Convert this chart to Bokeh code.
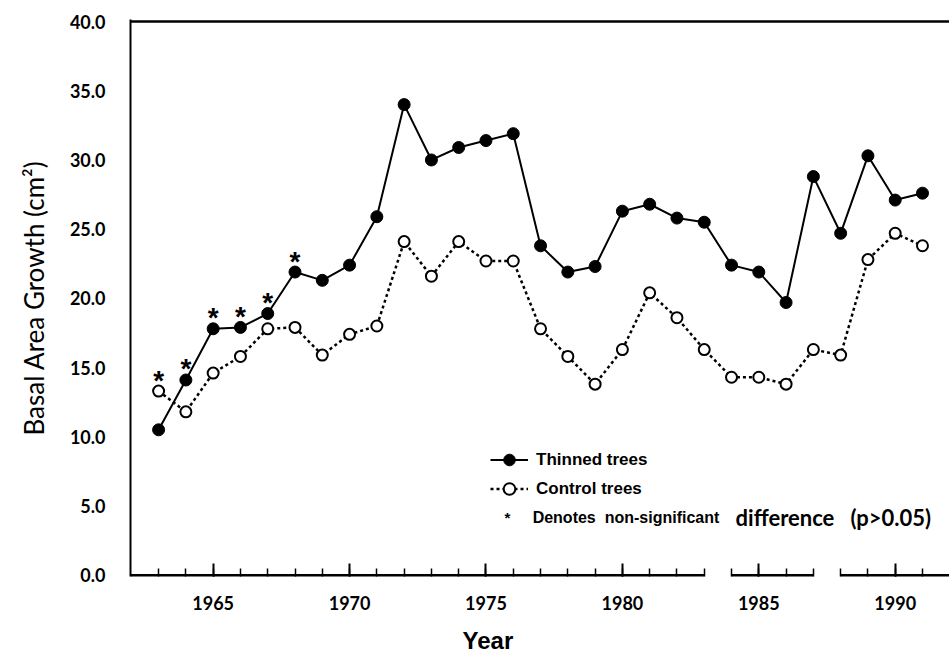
from bokeh.plotting import figure
from bokeh.models import (Range1d, FixedTicker, Span, Legend, LegendItem, Label,
                          NumeralTickFormatter, Title)
from bokeh.core.properties import value
from bokeh.embed import file_html
from bokeh.resources import INLINE

# ---------------- data ----------------
years = [1963, 1964, 1965, 1966, 1967, 1968, 1969, 1970, 1971, 1972,
         1973, 1974, 1975, 1976, 1977, 1978, 1979, 1980, 1981, 1982,
         1983, 1984, 1985, 1986, 1987, 1988, 1989, 1990, 1991]
thinned = [10.5, 14.1, 17.8, 17.9, 18.9, 21.9, 21.3, 22.4, 25.9, 34.0,
           30.0, 30.9, 31.4, 31.9, 23.8, 21.9, 22.3, 26.3, 26.8, 25.8,
           25.5, 22.4, 21.9, 19.7, 28.8, 24.7, 30.3, 27.1, 27.6]
control = [13.3, 11.8, 14.6, 15.8, 17.8, 17.9, 15.9, 17.4, 18.0, 24.1,
           21.6, 24.1, 22.7, 22.7, 17.8, 15.8, 13.8, 16.3, 20.4, 18.6,
           16.3, 14.3, 14.3, 13.8, 16.3, 15.9, 22.8, 24.7, 23.8]
nonsig_years = [1963, 1964, 1965, 1966, 1967, 1968]

y_ticks = [0, 5, 10, 15, 20, 25, 30, 35, 40]
x_major = [1965, 1970, 1975, 1980, 1985, 1990]
x_minor = years
axis_segments = [(None, 1983), (1984, 1987), (1988, None)]

# ---------------- layout constants ----------------
X_START, X_END = 1961.97, 1991.99
Y_START, Y_END = -0.1, 40.15
NBSP = "\u00a0"

p = figure(width=949, height=666, output_backend="svg", toolbar_location=None,
           x_range=Range1d(X_START, X_END), y_range=Range1d(Y_START, Y_END),
           min_border_left=130, min_border_right=0, min_border_top=19,
           min_border_bottom=90)
p.grid.visible = False
p.outline_line_color = None
p.background_fill_color = "white"

BOLD_FONT = "Lato"

# y axis
p.yaxis.ticker = FixedTicker(ticks=y_ticks)
p.yaxis.formatter = NumeralTickFormatter(format="0.0")
p.yaxis.major_tick_line_color = None
p.yaxis.minor_tick_line_color = None
p.yaxis.axis_line_width = 2
p.yaxis.axis_line_color = "black"
p.yaxis.major_label_standoff = 19
p.yaxis.major_label_text_font = BOLD_FONT
p.yaxis.major_label_text_font_style = "bold"
p.yaxis.major_label_text_font_size = "18px"
p.yaxis.major_label_text_color = "black"
p.yaxis.axis_label = "Basal Area Growth (cm²)"
p.yaxis.axis_label_text_font = "Lato"
p.yaxis.axis_label_text_font_style = "normal"
p.yaxis.axis_label_text_font_size = "26px"
p.yaxis.axis_label_text_color = "black"
p.yaxis.axis_label_standoff = 17

# x axis (ticks pointing inward, line drawn as broken segments)
p.xaxis.ticker = FixedTicker(ticks=x_major, minor_ticks=x_minor)
p.xaxis.axis_line_color = None
p.xaxis.major_tick_in = 13
p.xaxis.major_tick_out = 0
p.xaxis.minor_tick_in = 8
p.xaxis.minor_tick_out = 0
p.xaxis.major_tick_line_width = 2
p.xaxis.minor_tick_line_width = 1.5
p.xaxis.major_tick_line_color = "black"
p.xaxis.minor_tick_line_color = "black"
p.xaxis.major_label_standoff = 19
p.xaxis.major_label_text_font = BOLD_FONT
p.xaxis.major_label_text_font_style = "bold"
p.xaxis.major_label_text_font_size = "18px"
p.xaxis.major_label_text_color = "black"

# x axis title, placed off-centre like the original
p.add_layout(Title(text="Year", align="left", offset=332, standoff=24,
                   text_line_height=1.0,
                   text_font="Liberation Sans", text_font_style="bold",
                   text_font_size="24px", text_color="black"), "below")

# broken bottom axis line
seg_x0 = [X_START if a is None else a for a, b in axis_segments]
seg_x1 = [X_END if b is None else b for a, b in axis_segments]
p.segment(x0=seg_x0, y0=[Y_START] * len(seg_x0), x1=seg_x1, y1=[Y_START] * len(seg_x0),
          line_color="black", line_width=5)

# top line
p.add_layout(Span(location=y_ticks[-1], dimension="width", line_color="black", line_width=2.5))

# series
c_line = p.line(years, control, line_color="black", line_width=2.5, line_dash="3 3")
c_pts = p.scatter(years, control, marker="circle", size=11, fill_color="white",
                  line_color="black", line_width=2)
t_line = p.line(years, thinned, line_color="black", line_width=2)
t_pts = p.scatter(years, thinned, marker="circle", size=12, fill_color="black",
                  line_color="black")

# asterisks for non-significant years
ast_y = [max(thinned[years.index(y)], control[years.index(y)]) for y in nonsig_years]
p.text(x=nonsig_years, y=ast_y, text=["*"] * len(nonsig_years),
       text_font=value("Liberation Sans"), text_font_style="bold",
       text_font_size="28px", text_align="center", text_baseline="alphabetic",
       y_offset=-11, text_color="black")

# legend
legend = Legend(items=[LegendItem(label="Thinned trees", renderers=[t_line, t_pts]),
                       LegendItem(label="Control trees", renderers=[c_line, c_pts])],
                location=(360, 73), border_line_color=None, background_fill_alpha=0,
                padding=0, margin=0, spacing=0, glyph_width=38, glyph_height=29,
                label_height=29, label_standoff=8, label_text_font="Liberation Sans",
                label_text_font_style="bold", label_text_font_size="17px",
                label_text_color="black")
p.add_layout(legend)

# note line
p.add_layout(Label(x=1975.79, y=4.16, text="*", text_align="center", text_baseline="middle",
                   text_font="Liberation Sans", text_font_style="bold",
                   text_font_size="15px", text_color="black"))
p.add_layout(Label(x=1976.71, y=4.16, text="Denotes" + NBSP * 2 + "non-significant",
                   text_align="left", text_baseline="middle", text_font="Liberation Sans",
                   text_font_style="bold", text_font_size="16px", text_color="black"))
p.add_layout(Label(x=1984.15, y=4.16, text="difference" + NBSP * 3 + "(p>0.05)",
                   text_align="left", text_baseline="middle", text_font=BOLD_FONT,
                   text_font_style="bold", text_font_size="22px", text_color="black"))

open("out.html", "w").write(file_html(p, INLINE))
